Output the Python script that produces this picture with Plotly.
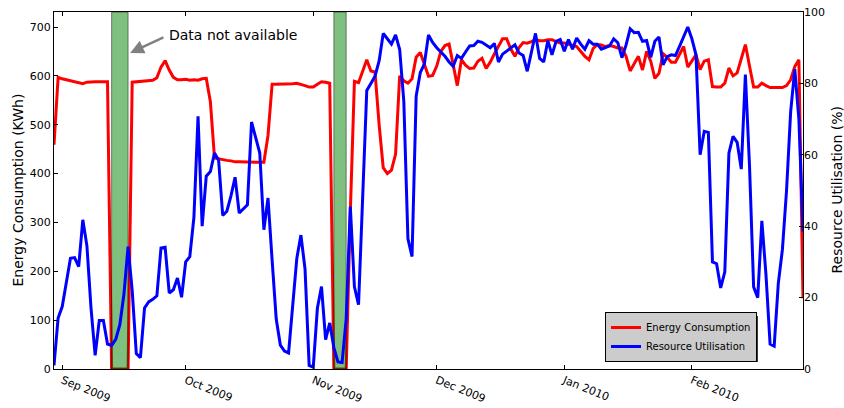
import pandas as pd
import plotly.graph_objects as go

# ---------------- data ----------------
start_date = "2009-08-30"

energy_kwh = [
    459, 597, 594, 592, 590, 588, 586, 584, 587, 588,
    588, 588, 588, 588, 0, 0, 0, 0, 0, 587,
    588, 589, 589, 590, 591, 596, 618, 631, 612, 597,
    592, 592, 593, 591, 592, 591, 594, 595, 547, 432,
    430, 429, 427, 426, 424, 424, 424, 424, 423, 424,
    423, 423, 478, 583, 583, 583, 583, 584, 584, 585,
    583, 580, 577, 577, 583, 588, 587, 585, 0, 0,
    0, 0, 320, 589, 586, 610, 633, 610, 608, 500,
    412, 400, 407, 440, 600, 590, 585, 594, 638, 648,
    625, 599, 601, 620, 650, 662, 665, 620, 580, 633,
    622, 615, 616, 630, 636, 615, 628, 645, 660, 676,
    676, 655, 640, 658, 668, 667, 670, 674, 672, 672,
    674, 674, 670, 667, 667, 665, 663, 660, 650, 640,
    633, 656, 664, 663, 660, 662, 660, 657, 657, 640,
    610, 625, 640, 612, 650, 630, 595, 605, 645, 638,
    628, 628, 645, 660, 618, 630, 643, 613, 630, 633,
    578, 577, 577, 585, 616, 600, 606, 635, 664, 620,
    577, 577, 585, 580, 576, 576, 576, 576, 580, 592,
    619, 633, 145,
]

utilisation_pct = [
    1, 14.3, 17.5, 24, 31, 31.2, 28.7, 41.8, 34.5, 17,
    3.8, 13.6, 13.6, 7.0, 6.6, 8.3, 12.4, 21, 34.3, 22,
    4.3, 3.2, 17.1, 18.8, 19.5, 20.5, 33.9, 34.1, 21.3, 22.2,
    25.5, 20.1, 30, 31.5, 42.5, 70.8, 40, 54, 55.3, 60.5,
    58.5, 43, 44.2, 48.5, 53.7, 43.7, 44.8, 46, 69.2, 64.5,
    60.5, 39, 47.9, 30.5, 14, 6.7, 5, 4.5, 17.7, 31,
    37.5, 28, 1, 0.5, 17, 23.1, 8.2, 12.9, 6, 2,
    1.8, 14, 45.5, 23, 18, 48, 78, 80, 82, 86.3,
    94, 92.5, 91, 93.6, 89.5, 75, 36.5, 31.5, 76.4, 83,
    85.5, 93.6, 91.5, 90, 88.8, 87.6, 86, 84.8, 87.8, 87,
    88.8, 90.5, 90.6, 91.8, 91.5, 90.7, 90, 91.2, 86, 88.2,
    89, 89.8, 90.8, 88.5, 87.8, 83.4, 88.5, 94, 87, 86,
    92, 88, 91.8, 92.3, 89, 92.3, 89.6, 92.7, 91, 89.6,
    92, 91, 91, 89.6, 90, 90.5, 92.5, 91.4, 87.2, 90.7,
    95.3, 94.2, 94.3, 91.8, 92, 87.3, 91.8, 93, 85.2, 87.5,
    88, 87.8, 90.4, 93, 95.8, 92.5, 88, 60, 66.6, 66.3,
    30, 29.5, 22.7, 27.2, 60.5, 65.2, 63.5, 56, 82.5, 57,
    23, 20, 41.5, 26.5, 7, 6.4, 24, 33.5, 50, 72,
    84, 70, 38.5,
]

gap_periods = [("2009-09-13", "2009-09-17"), ("2009-11-06", "2009-11-09")]

x_tick_dates = ["2009-09-01", "2009-10-01", "2009-11-01", "2009-12-01",
                "2010-01-01", "2010-02-01"]
energy_ticks = [0, 100, 200, 300, 400, 500, 600, 700]
util_ticks = [0, 20, 40, 60, 80, 100]

left_title = "Energy Consumption (KWh)"
right_title = "Resource Utilisation (%)"
annotation_text = "Data not available"

# ---------------- figure ----------------
dates = pd.date_range(start_date, periods=len(energy_kwh), freq="D")
E_MAX = 730.7

fig = go.Figure()

fig.add_trace(go.Scatter(
    x=dates, y=energy_kwh, mode="lines", name="Energy Consumption",
    line=dict(color="#ff0000", width=3), yaxis="y",
))

for g0, g1 in gap_periods:
    fig.add_trace(go.Scatter(
        x=[g0, g0, g1, g1, g0], y=[0, E_MAX, E_MAX, 0, 0],
        mode="lines", fill="toself", fillcolor="rgba(0,128,0,0.5)",
        line=dict(color="rgba(0,0,0,0.45)", width=1),
        showlegend=False, hoverinfo="skip", yaxis="y",
    ))

fig.add_trace(go.Scatter(
    x=dates, y=utilisation_pct, mode="lines", name="Resource Utilisation",
    line=dict(color="#0000ff", width=3), yaxis="y2",
))

font_family = "DejaVu Sans, sans-serif"

# pixel helpers (plot area: 54..803 x 12..369)
PW, PH = 749.0, 357.0
def px_x(v):
    return (v - 54) / PW
def px_y(v):
    return (369 - v) / PH

# legend shadow
fig.add_shape(
    type="rect", xref="paper", yref="paper",
    x0=px_x(608), x1=px_x(758), y0=px_y(362), y1=px_y(316),
    fillcolor="#3a3a3a", line=dict(width=0), layer="above",
)

fig.update_layout(
    width=844, height=408,
    margin=dict(l=54, r=41, t=12, b=39),
    paper_bgcolor="white", plot_bgcolor="white",
    font=dict(family=font_family, size=11, color="black"),
    showlegend=True,
    legend=dict(
        x=px_x(605), y=px_y(312), xanchor="left", yanchor="top",
        bgcolor="#cccccc", bordercolor="black", borderwidth=1,
        font=dict(size=10, family=font_family),
        tracegroupgap=0,
    ),
    xaxis=dict(
        type="date", range=[dates[0], dates[-1]], automargin=False,
        tickvals=x_tick_dates, tickformat="%b %Y", tickangle=22,
        ticks="inside", ticklen=4, tickcolor="black",
        showline=True, linecolor="black", linewidth=1, mirror="ticks",
        showgrid=False, zeroline=False,
        tickfont=dict(size=11),
    ),
    yaxis=dict(
        range=[0, E_MAX], tickvals=energy_ticks, automargin=False,
        ticks="inside", ticklen=4, tickcolor="black",
        showline=True, linecolor="black", linewidth=1, mirror=True,
        showgrid=False, zeroline=False,
        tickfont=dict(size=11),
    ),
    yaxis2=dict(
        range=[0, 100], tickvals=util_ticks, overlaying="y", side="right",
        automargin=False,
        ticks="inside", ticklen=4, tickcolor="black",
        showline=False, showgrid=False, zeroline=False,
        tickfont=dict(size=11),
    ),
)

# axis titles
fig.add_annotation(
    x=px_x(17), y=0.5, xref="paper", yref="paper", text=left_title,
    textangle=-90, showarrow=False, xanchor="center", yanchor="middle",
    font=dict(size=14, family=font_family, color="black"),
)
fig.add_annotation(
    x=px_x(836), y=0.5, xref="paper", yref="paper", text=right_title,
    textangle=-90, showarrow=False, xanchor="center", yanchor="middle",
    font=dict(size=14, family=font_family, color="black"),
)

# arrow
fig.add_annotation(
    x=pd.Timestamp("2009-09-17 12:00"), y=647, xref="x", yref="y",
    ax=pd.Timestamp("2009-09-25 23:00"), ay=680, axref="x", ayref="y",
    text="", showarrow=True, arrowhead=2, arrowsize=1.1, arrowwidth=2.5,
    arrowcolor="#808080",
)
fig.add_annotation(
    x=pd.Timestamp("2009-09-26 12:00"), y=683, xref="x", yref="y",
    text=annotation_text, showarrow=False, xanchor="left", yanchor="middle",
    font=dict(size=14, family=font_family, color="black"),
)

fig.write_html(
    "out.html",
    config={"displayModeBar": False},
    post_script="document.body.style.margin='0';"
                "document.documentElement.style.overflow='hidden';"
                "document.body.style.overflow='hidden';",
)
